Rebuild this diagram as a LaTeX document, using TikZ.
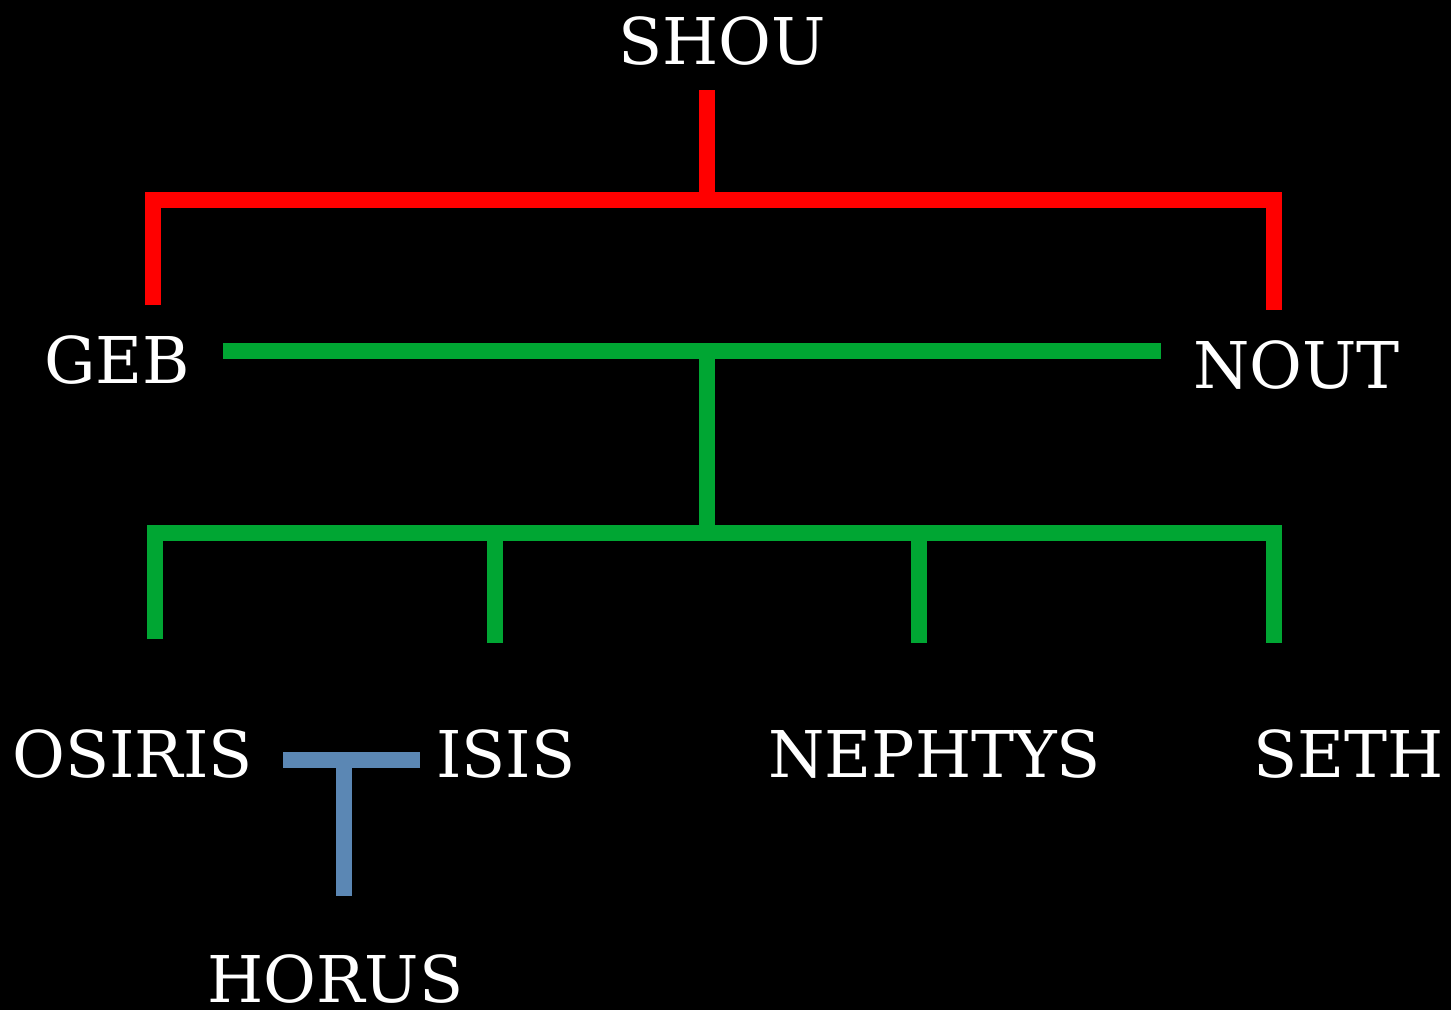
\documentclass[tikz,border=0pt]{standalone}
\usepackage{fontspec}
\setmainfont{DejaVu Serif}
\begin{document}
\begin{tikzpicture}[x=1pt,y=-1pt,
  lbl/.style={text=white,font=\fontsize{64.5}{64.5}\selectfont,inner sep=0pt,anchor=base west},
  redl/.style={draw={rgb,255:red,255;green,0;blue,0},line width=16pt,line join=miter,line cap=butt},
  greenl/.style={draw={rgb,255:red,0;green,166;blue,51},line width=16pt,line join=miter,line cap=butt},
  bluel/.style={draw={rgb,255:red,91;green,135;blue,180},line width=16pt,line join=miter,line cap=butt}]
\fill[black] (0,0) rectangle (1451,1010);
\useasboundingbox (0,0) rectangle (1451,1010);
% labels
\node[lbl] (shou) at (618,64) {SHOU};
\node[lbl] (geb) at (44,383) {GEB};
\node[lbl] (nout) at (1193,388) {NOUT};
\node[lbl] (osiris) at (12,777) {OSIRIS};
\node[lbl] (isis) at (436,777) {ISIS};
\node[lbl] (nephtys) at (768,777) {NEPHTYS};
\node[lbl] (seth) at (1253,777) {SETH};
\node[lbl] (horus) at (207,1002) {HORUS};
% junction coordinates
\coordinate (r0) at (707,90);
\coordinate (r1) at (707,200);
\coordinate (rl) at (153,305);
\coordinate (rr) at (1274,310);
\coordinate (g0) at (223,351);
\coordinate (g1) at (1161,351);
\coordinate (gm) at (707,351);
\coordinate (gj) at (707,533);
\coordinate (c1) at (155,639);
\coordinate (c2) at (495,643);
\coordinate (c3) at (919,643);
\coordinate (c4) at (1274,643);
\coordinate (b0) at (283,760);
\coordinate (b1) at (420,760);
\coordinate (bm) at (344,760);
\coordinate (bh) at (344,896);
% red
\draw[redl] (r0) -- (r1);
\draw[redl] (rl) |- (r1) -| (rr);
% green
\draw[greenl] (g0) -- (g1);
\draw[greenl] (gm) -- (gj);
\draw[greenl] (c1) |- (gj) -| (c4);
\draw[greenl] (c2) -- (c2 |- gj);
\draw[greenl] (c3) -- (c3 |- gj);
% blue
\draw[bluel] (b0) -- (b1);
\draw[bluel] (bm) -- (bh);
\end{tikzpicture}
\end{document}
